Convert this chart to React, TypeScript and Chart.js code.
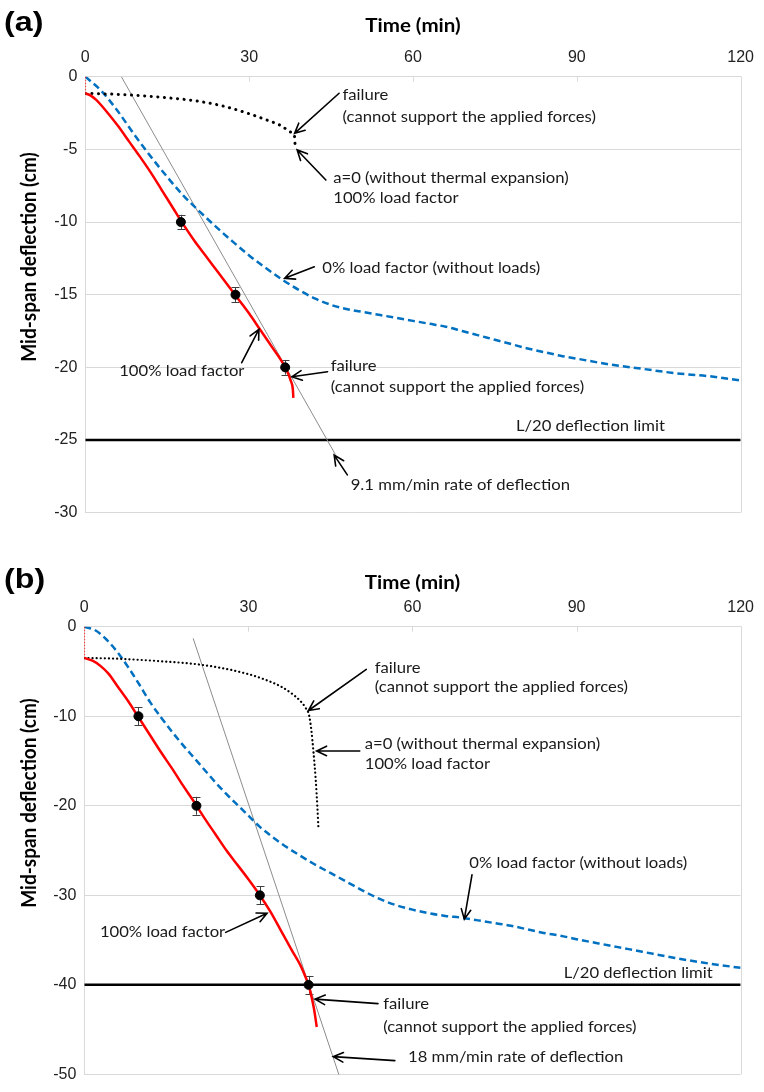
import React, { useEffect, useRef } from "react";
import { Chart, registerables } from "chart.js";

Chart.register(...registerables);

// ---------------- shared axis values ----------------
const TIME_MIN = 0;
const TIME_MAX = 120;
const TIME_STEP = 30;

// ---------------- Panel (a) ----------------
const A_DEFL_MIN = -30;
const A_DEFL_STEP = 5;

const A_RED_TIME = [0, 1, 2, 3, 4, 6, 8, 10, 12, 14, 16, 18, 20, 22, 24, 26, 28, 30, 32, 34, 36, 37, 37.6, 38, 38.1];
const A_RED_DEFL = [-1.15, -1.3, -1.6, -2.0, -2.45, -3.4, -4.45, -5.5, -6.6, -7.8, -9.0, -10.2, -11.3, -12.3, -13.3, -14.3, -15.3, -16.3, -17.4, -18.5, -19.6, -20.3, -20.9, -21.5, -22.1];

const A_START_TIME = [0, 0];
const A_START_DEFL = [0, -1.15];

const A_BLUE_TIME = [0, 3, 6, 9, 12, 15, 18, 21, 24, 27, 30, 33, 36, 39, 42, 45, 48, 51, 54, 57, 60, 63, 66, 69, 72, 75, 78, 81, 84, 87, 90, 96, 102, 108, 114, 120];
const A_BLUE_DEFL = [0, -1, -2.4, -4.0, -5.5, -6.9, -8.2, -9.3, -10.35, -11.35, -12.3, -13.15, -13.95, -14.65, -15.25, -15.7, -16.0, -16.2, -16.4, -16.6, -16.8, -17.0, -17.2, -17.5, -17.8, -18.1, -18.4, -18.7, -18.95, -19.2, -19.4, -19.8, -20.1, -20.4, -20.6, -20.9];

const A_DOT_TIME = [0, 5, 10, 15, 20, 25, 30, 33, 36, 37.5, 38.3, 38.4];
const A_DOT_DEFL = [-1.15, -1.2, -1.3, -1.45, -1.65, -2.0, -2.55, -2.95, -3.4, -3.8, -4.1, -4.6];

const A_TEST_TIME = [17.5, 27.5, 36.6];
const A_TEST_DEFL = [-10, -15, -20];
const A_TEST_ERR = [0.5, 0.5, 0.5];

const A_RATE_TIME = [6.6, 45.8];
const A_RATE_DEFL = [0, -26];

const A_LIMIT = -25;

const A_TEXTS = [
  { text: "failure", t: 47.1, d: -1.26 },
  { text: "(cannot support the applied forces)", t: 47.1, d: -2.75 },
  { text: "a=0 (without thermal expansion)", t: 45.4, d: -6.97 },
  { text: "100% load factor", t: 45.4, d: -8.35 },
  { text: "0% load factor (without loads)", t: 43.4, d: -13.19 },
  { text: "100% load factor", t: 6.2, d: -20.25 },
  { text: "failure", t: 44.95, d: -19.91 },
  { text: "(cannot support the applied forces)", t: 44.95, d: -21.34 },
  { text: "L/20 deflection limit", t: 78.85, d: -24.02 },
  { text: "9.1 mm/min rate of deflection", t: 48.6, d: -28.1 },
];

const A_ARROWS = [
  { t1: 46.47, d1: -1.14, t2: 38.32, d2: -3.9 },
  { t1: 44.05, d1: -7.11, t2: 38.79, d2: -5.04 },
  { t1: 41.94, d1: -13.08, t2: 36.5, d2: -13.87 },
  { t1: 28.64, d1: -19.68, t2: 31.79, d2: -17.38 },
  { t1: 44.36, d1: -20.3, t2: 37.83, d2: -20.65 },
  { t1: 47.98, d1: -27.4, t2: 45.57, d2: -26.04 },
];

// ---------------- Panel (b) ----------------
const B_DEFL_MIN = -50;
const B_DEFL_STEP = 10;

const B_RED_TIME = [0, 1.5, 3, 4.5, 6, 8, 10, 12, 14, 16, 18, 20, 22, 24, 26, 28, 30, 32, 34, 36, 38, 39.5, 40.5, 41, 41.5, 42, 42.5];
const B_RED_DEFL = [-3.5, -3.8, -4.4, -5.3, -6.6, -8.3, -10.2, -12.1, -14.0, -15.8, -17.7, -19.5, -21.4, -23.2, -25.0, -26.6, -28.2, -29.9, -31.8, -34.0, -36.2, -37.8, -39.2, -40.0, -41.2, -42.7, -44.7];

const B_START_TIME = [0, 0];
const B_START_DEFL = [0, -3.5];

const B_BLUE_TIME = [0, 2, 4, 6, 8, 10, 12, 14, 16, 18, 20, 22, 24, 26, 28, 30, 32, 34, 36, 39, 42, 45, 48, 51, 54, 57, 60, 63, 66, 69, 72, 75, 78, 81, 84, 87, 90, 96, 102, 108, 114, 120];
const B_BLUE_DEFL = [0, -0.4, -1.4, -2.8, -4.5, -6.4, -8.4, -10.1, -11.7, -13.2, -14.6, -16.0, -17.4, -18.7, -19.9, -21.1, -22.3, -23.3, -24.2, -25.4, -26.5, -27.5, -28.5, -29.5, -30.4, -31.1, -31.6, -32.0, -32.3, -32.5, -32.8, -33.1, -33.4, -33.8, -34.2, -34.5, -34.9, -35.6, -36.3, -37.0, -37.6, -38.1];

const B_DOT_TIME = [0, 5, 10, 15, 20, 25, 30, 33, 36, 38, 39.5, 40.5, 41.1, 41.5, 41.9, 42.3, 42.6, 42.8];
const B_DOT_DEFL = [-3.5, -3.55, -3.7, -3.9, -4.15, -4.6, -5.3, -5.9, -6.7, -7.5, -8.3, -9.1, -9.9, -11.5, -14, -17, -20, -22.4];

const B_TEST_TIME = [9.9, 20.5, 32.1, 41];
const B_TEST_DEFL = [-10, -20, -30, -40];
const B_TEST_ERR = [1, 1, 1, 1];

const B_RATE_TIME = [19.9, 47.3];
const B_RATE_DEFL = [-1.3, -51.4];

const B_LIMIT = -40;

const B_TEXTS = [
  { text: "failure", t: 53.1, d: -4.58 },
  { text: "(cannot support the applied forces)", t: 53.1, d: -6.78 },
  { text: "a=0 (without thermal expansion)", t: 51.27, d: -13.11 },
  { text: "100% load factor", t: 51.27, d: -15.34 },
  { text: "0% load factor (without loads)", t: 70.39, d: -26.43 },
  { text: "100% load factor", t: 2.85, d: -34.14 },
  { text: "L/20 deflection limit", t: 87.64, d: -38.72 },
  { text: "failure", t: 54.65, d: -42.21 },
  { text: "(cannot support the applied forces)", t: 54.65, d: -44.67 },
  { text: "18 mm/min rate of deflection", t: 59.19, d: -48.02 },
];

const B_ARROWS = [
  { t1: 51.56, d1: -4.77, t2: 40.98, d2: -9.36 },
  { t1: 50.36, d1: -13.88, t2: 42.48, d2: -13.88 },
  { t1: 70.88, d1: -27.71, t2: 69.48, d2: -32.67 },
  { t1: 25.85, d1: -34.14, t2: 33.41, d2: -32.0 },
  { t1: 53.69, d1: -42.1, t2: 42.19, d2: -41.59 },
  { t1: 56.77, d1: -48.46, t2: 45.52, d2: -48.02 },
];

// ---------------- styling ----------------
const GRID = "#d9d9d9";
const TEXT_FONT = "Lato";
const TEXT_SIZE = 15;
const TEXT_STRETCH = 1.11;

const pts = (xs: number[], ys: number[]) => xs.map((x, i) => ({ x, y: ys[i] }));

const overlayPlugin = {
  id: "overlay",
  beforeDatasetsDraw(chart: any) {
    const o = chart.options.plugins.overlay;
    if (!o) return;
    const { ctx, chartArea: ca, scales } = chart;
    const x = scales.x;
    const y = scales.y;
    ctx.save();
    ctx.strokeStyle = GRID;
    ctx.lineWidth = 1;
    ctx.beginPath();
    const rx = Math.round(ca.right) + 0.5;
    ctx.moveTo(rx, ca.top);
    ctx.lineTo(rx, ca.bottom);
    x.ticks.forEach((tk: any) => {
      const px = Math.round(x.getPixelForValue(tk.value)) + 0.5;
      ctx.moveTo(px, ca.top);
      ctx.lineTo(px, ca.top + 5);
    });
    ctx.stroke();
    // error bars
    const data = chart.data.datasets[0].data;
    ctx.strokeStyle = "#404040";
    ctx.lineWidth = 1;
    ctx.beginPath();
    data.forEach((p: any, i: number) => {
      const e = o.errors[i];
      const px = Math.round(x.getPixelForValue(p.x)) + 0.5;
      const y1 = y.getPixelForValue(p.y + e);
      const y2 = y.getPixelForValue(p.y - e);
      ctx.moveTo(px, y1);
      ctx.lineTo(px, y2);
      ctx.moveTo(px - 4, Math.round(y1) + 0.5);
      ctx.lineTo(px + 4, Math.round(y1) + 0.5);
      ctx.moveTo(px - 4, Math.round(y2) + 0.5);
      ctx.lineTo(px + 4, Math.round(y2) + 0.5);
    });
    ctx.stroke();
    ctx.restore();
  },
  afterDraw(chart: any) {
    const o = chart.options.plugins.overlay;
    if (!o) return;
    const { ctx, chartArea: ca, scales } = chart;
    const x = scales.x;
    const y = scales.y;
    const stretchText = (s: string, px: number, py: number, font: string, sx: number) => {
      ctx.save();
      ctx.font = font;
      ctx.translate(px, py);
      ctx.scale(sx, 1);
      ctx.fillText(s, 0, 0);
      ctx.restore();
    };
    ctx.save();
    ctx.fillStyle = "#1a1a1a";
    ctx.textBaseline = "middle";
    ctx.textAlign = "left";
    o.texts.forEach((tx: any) => {
      stretchText(tx.text, x.getPixelForValue(tx.t), y.getPixelForValue(tx.d), `${TEXT_SIZE}px ${TEXT_FONT}`, TEXT_STRETCH);
    });
    // arrows
    ctx.strokeStyle = "#000";
    ctx.lineWidth = 1.6;
    ctx.lineCap = "round";
    o.arrows.forEach((a: any) => {
      const x1 = x.getPixelForValue(a.t1);
      const y1 = y.getPixelForValue(a.d1);
      const x2 = x.getPixelForValue(a.t2);
      const y2 = y.getPixelForValue(a.d2);
      const ang = Math.atan2(y2 - y1, x2 - x1);
      const hl = 11;
      const spread = 0.45;
      ctx.beginPath();
      ctx.moveTo(x1, y1);
      ctx.lineTo(x2, y2);
      ctx.moveTo(x2 - hl * Math.cos(ang - spread), y2 - hl * Math.sin(ang - spread));
      ctx.lineTo(x2, y2);
      ctx.lineTo(x2 - hl * Math.cos(ang + spread), y2 - hl * Math.sin(ang + spread));
      ctx.stroke();
    });
    // axis titles
    ctx.fillStyle = "#000";
    ctx.textAlign = "center";
    ctx.save();
    ctx.font = "bold 19px Lato";
    ctx.translate((ca.left + ca.right) / 2, o.xTitleY);
    ctx.scale(1.08, 1);
    ctx.fillText("Time (min)", 0, 0);
    ctx.restore();
    ctx.save();
    ctx.font = "bold 19px Lato";
    ctx.translate(o.yTitleX, o.yTitleY);
    ctx.rotate(-Math.PI / 2);
    ctx.scale(1.0, 1.12);
    ctx.fillText("Mid-span deflection (cm)", 0, 0);
    ctx.restore();
    // panel label
    ctx.textAlign = "left";
    ctx.save();
    ctx.font = "bold 28px 'Liberation Sans'";
    ctx.translate(4, o.labelY);
    ctx.scale(1.15, 1);
    ctx.fillText(o.label, 0, 0);
    ctx.restore();
    ctx.restore();
  },
};

function makeConfig(p: any) {
  const lineDs = (data: any[], color: string, width: number, dash: number[], cap: string) => ({
    type: "scatter",
    data,
    showLine: true,
    borderColor: color,
    backgroundColor: color,
    borderWidth: width,
    borderDash: dash,
    borderCapStyle: cap,
    pointRadius: 0,
    pointHoverRadius: 0,
    cubicInterpolationMode: "monotone",
    fill: false,
  });
  return {
    type: "scatter",
    data: {
      datasets: [
        {
          type: "scatter",
          data: pts(p.testT, p.testD),
          pointRadius: 4.5,
          pointBackgroundColor: "#000",
          pointBorderColor: "#000",
          showLine: false,
        },
        lineDs(pts(p.redT, p.redD), "#ff0000", 2.5, [], "butt"),
        { ...lineDs(pts(p.startT, p.startD), "#ff0000", 1.6, [1.5, 1.5], "butt"), cubicInterpolationMode: "default", tension: 0 },
        lineDs(pts(p.dotT, p.dotD), "#000000", p.dotW, p.dotDash, "round"),
        lineDs(pts(p.blueT, p.blueD), "#0070c0", 2.5, [7, 4], "butt"),
        { ...lineDs(pts(p.rateT, p.rateD), "#8c8c8c", 1, [], "butt"), cubicInterpolationMode: "default", tension: 0 },
        { ...lineDs(pts([TIME_MIN, TIME_MAX], [p.limit, p.limit]), "#000000", 2.5, [], "butt"), cubicInterpolationMode: "default", tension: 0 },
      ],
    },
    options: {
      responsive: false,
      animation: false,
      events: [],
      layout: { padding: { left: 0, top: 0, right: p.padRight, bottom: p.padBottom } },
      scales: {
        x: {
          type: "linear",
          position: "top",
          min: TIME_MIN,
          max: TIME_MAX,
          afterFit: (s: any) => {
            s.height = p.xAxisH;
          },
          ticks: {
            stepSize: TIME_STEP,
            padding: 10,
            color: "#222",
            font: { family: "'Liberation Sans', Arial", size: 16 },
          },
          grid: { display: false, drawTicks: false },
          border: { display: true, color: GRID },
        },
        y: {
          type: "linear",
          min: p.yMin,
          max: 0,
          afterFit: (s: any) => {
            s.width = p.yAxisW;
          },
          ticks: {
            stepSize: p.yStep,
            padding: 8,
            color: "#222",
            font: { family: "'Liberation Sans', Arial", size: 16 },
          },
          grid: { color: GRID, drawTicks: false, lineWidth: 1 },
          border: { display: true, color: GRID },
        },
      },
      plugins: {
        legend: { display: false },
        tooltip: { enabled: false },
        overlay: {
          errors: p.testE,
          texts: p.texts,
          arrows: p.arrows,
          label: p.label,
          labelY: p.labelY,
          xTitleY: p.xTitleY,
          yTitleX: 29,
          yTitleY: p.yTitleY,
        },
      },
    },
    plugins: [overlayPlugin],
  };
}

const PANEL_A = {
  label: "(a)",
  redT: A_RED_TIME, redD: A_RED_DEFL,
  startT: A_START_TIME, startD: A_START_DEFL,
  blueT: A_BLUE_TIME, blueD: A_BLUE_DEFL,
  dotT: A_DOT_TIME, dotD: A_DOT_DEFL, dotW: 3, dotDash: [0.1, 6.5],
  testT: A_TEST_TIME, testD: A_TEST_DEFL, testE: A_TEST_ERR,
  rateT: A_RATE_TIME, rateD: A_RATE_DEFL,
  limit: A_LIMIT,
  yMin: A_DEFL_MIN, yStep: A_DEFL_STEP,
  texts: A_TEXTS, arrows: A_ARROWS,
  xAxisH: 76.7, yAxisW: 85.3, padRight: 15.5, padBottom: 32.3,
  labelY: 23, xTitleY: 26, yTitleY: 257,
};

const PANEL_B = {
  label: "(b)",
  redT: B_RED_TIME, redD: B_RED_DEFL,
  startT: B_START_TIME, startD: B_START_DEFL,
  blueT: B_BLUE_TIME, blueD: B_BLUE_DEFL,
  dotT: B_DOT_TIME, dotD: B_DOT_DEFL, dotW: 2.2, dotDash: [0.1, 4],
  testT: B_TEST_TIME, testD: B_TEST_DEFL, testE: B_TEST_ERR,
  rateT: B_RATE_TIME, rateD: B_RATE_DEFL,
  limit: B_LIMIT,
  yMin: B_DEFL_MIN, yStep: B_DEFL_STEP,
  texts: B_TEXTS, arrows: B_ARROWS,
  xAxisH: 81.7, yAxisW: 84.3, padRight: 18.7, padBottom: 11.3,
  labelY: 35, xTitleY: 38, yTitleY: 258,
};

function Panel({ cfg, top, height }: { cfg: any; top: number; height: number }) {
  const ref = useRef<HTMLCanvasElement | null>(null);
  useEffect(() => {
    if (!ref.current) return;
    const chart = new Chart(ref.current, makeConfig(cfg) as any);
    return () => chart.destroy();
  }, [cfg]);
  return (
    <div style={{ position: "absolute", left: 0, top, width: 764, height }}>
      <canvas ref={ref} width={764} height={height} style={{ width: 764, height, display: "block" }} />
    </div>
  );
}

export default function App() {
  return (
    <div style={{ position: "absolute", left: 0, top: 0, width: 764, height: 1092, background: "#fff" }}>
      <Panel cfg={PANEL_A} top={0} height={545} />
      <Panel cfg={PANEL_B} top={545} height={547} />
    </div>
  );
}
